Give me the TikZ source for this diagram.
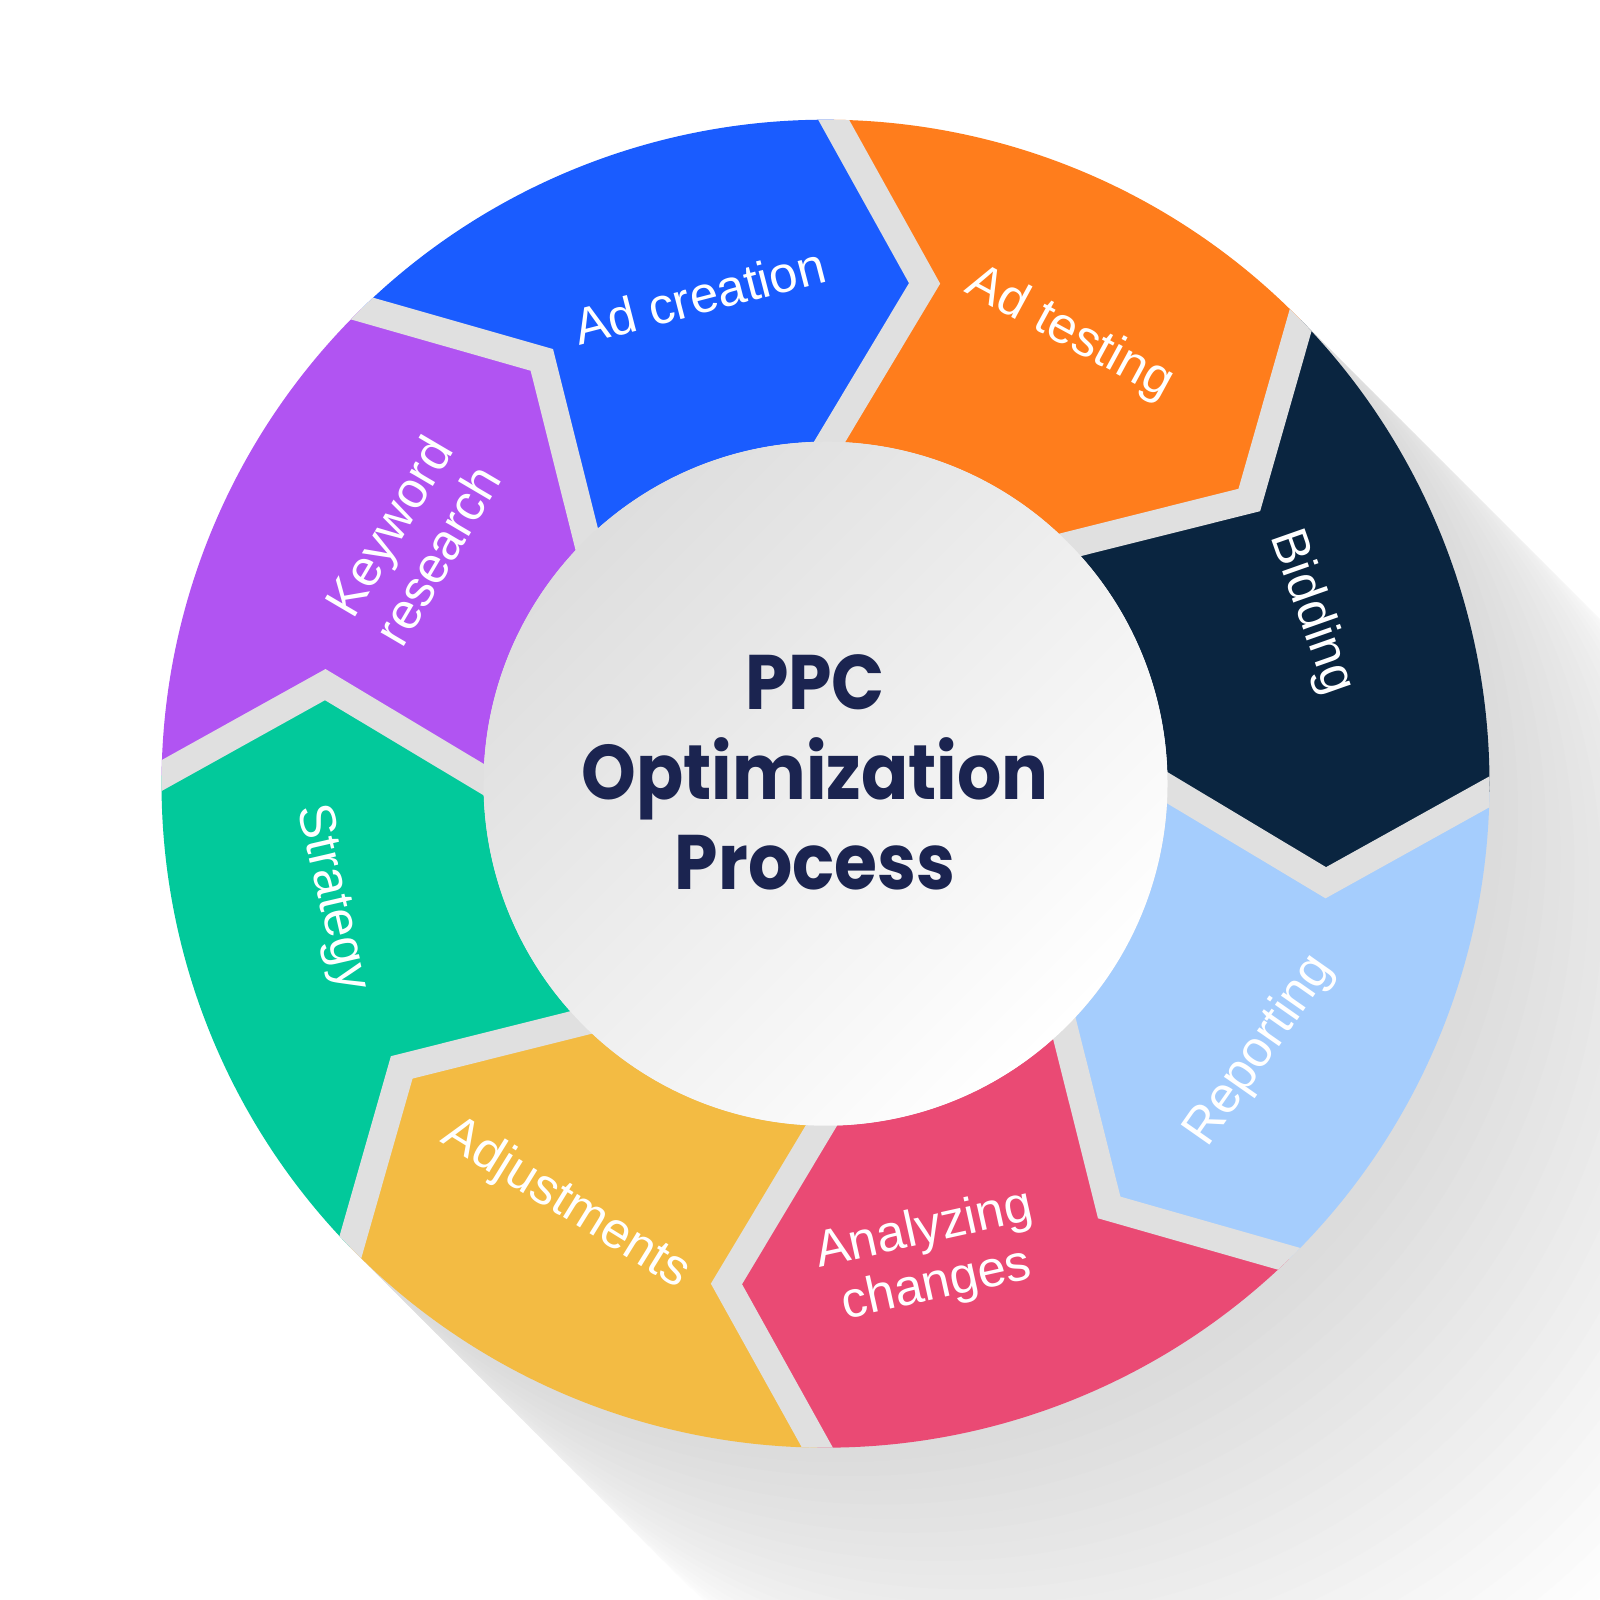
\documentclass[tikz,border=0pt]{standalone}
\usepackage{fontspec}
\setmainfont{Liberation Sans}
\newfontfamily\titlefont[FakeStretch=0.9]{Poppins}

\definecolor{segblue}{HTML}{1A5CFF}
\definecolor{segorange}{HTML}{FF7D1C}
\definecolor{segnavy}{HTML}{0A2540}
\definecolor{seglight}{HTML}{A5CDFD}
\definecolor{segpink}{HTML}{EA4A74}
\definecolor{segyellow}{HTML}{F3BB43}
\definecolor{seggreen}{HTML}{02C99B}
\definecolor{segpurple}{HTML}{B154F2}
\definecolor{titlenavy}{HTML}{1B2450}
\definecolor{gapgray}{HTML}{E0E0E0}

\tikzset{
  seglabel/.style={text=white, font=\fontsize{14.5}{16}\selectfont, align=center, inner sep=0pt},
  gapline/.style={draw=gapgray, line width=0.27cm, line join=miter, line cap=rect},
}

\begin{document}
\begin{tikzpicture}
    % Variables for the ring size
    \def\Rout{6.64}
    \def\Rin{3.42}
    \def\Rtip{5.10}

    \useasboundingbox (0,0) rectangle (16,16);
    \clip (0,0) rectangle (16,16);
    \fill[white] (0,0) rectangle (16,16);

    \begin{scope}[shift={(8.255,8.163)}]
    \coordinate (c) at (0,0);

    % Long shadow towards the lower right, fading out
    \foreach \i [evaluate=\i as \g using 14.5-0.6*\i] in {24,...,1}
        \fill[black!\g, shift={(-45:0.2*\i)}] (0,0) circle (\Rout);

    % Ring segments, clockwise from the top
    % Ad creation
    \fill[segblue] (134.3:\Rout) arc[start angle=134.3, end angle=89.3, radius=\Rout] -- (78.8:\Rtip) -- (89.3:\Rin) arc[start angle=89.3, end angle=134.3, radius=\Rin] -- (123.8:\Rtip) -- cycle;
    % Ad testing
    \fill[segorange] (89.3:\Rout) arc[start angle=89.3, end angle=44.3, radius=\Rout] -- (33.8:\Rtip) -- (44.3:\Rin) arc[start angle=44.3, end angle=89.3, radius=\Rin] -- (78.8:\Rtip) -- cycle;
    % Bidding
    \fill[segnavy] (44.3:\Rout) arc[start angle=44.3, end angle=-0.7, radius=\Rout] -- (-11.2:\Rtip) -- (-0.7:\Rin) arc[start angle=-0.7, end angle=44.3, radius=\Rin] -- (33.8:\Rtip) -- cycle;
    % Reporting
    \fill[seglight] (-0.7:\Rout) arc[start angle=-0.7, end angle=-45.7, radius=\Rout] -- (-56.2:\Rtip) -- (-45.7:\Rin) arc[start angle=-45.7, end angle=-0.7, radius=\Rin] -- (-11.2:\Rtip) -- cycle;
    % Analyzing changes
    \fill[segpink] (-45.7:\Rout) arc[start angle=-45.7, end angle=-90.7, radius=\Rout] -- (-101.2:\Rtip) -- (-90.7:\Rin) arc[start angle=-90.7, end angle=-45.7, radius=\Rin] -- (-56.2:\Rtip) -- cycle;
    % Adjustments
    \fill[segyellow] (-90.7:\Rout) arc[start angle=-90.7, end angle=-135.7, radius=\Rout] -- (-146.2:\Rtip) -- (-135.7:\Rin) arc[start angle=-135.7, end angle=-90.7, radius=\Rin] -- (-101.2:\Rtip) -- cycle;
    % Strategy
    \fill[seggreen] (-135.7:\Rout) arc[start angle=-135.7, end angle=-180.7, radius=\Rout] -- (-191.2:\Rtip) -- (-180.7:\Rin) arc[start angle=-180.7, end angle=-135.7, radius=\Rin] -- (-146.2:\Rtip) -- cycle;
    % Keyword research
    \fill[segpurple] (179.3:\Rout) arc[start angle=179.3, end angle=134.3, radius=\Rout] -- (123.8:\Rtip) -- (134.3:\Rin) arc[start angle=134.3, end angle=179.3, radius=\Rin] -- (168.8:\Rtip) -- cycle;

    % Gaps between the segments
    \begin{scope}
        \clip (0,0) circle (\Rout);
        \draw[gapline] (134.3:\Rout) -- (123.8:\Rtip) -- (134.3:\Rin);
        \draw[gapline] (89.3:\Rout) -- (78.8:\Rtip) -- (89.3:\Rin);
        \draw[gapline] (44.3:\Rout) -- (33.8:\Rtip) -- (44.3:\Rin);
        \draw[gapline] (-0.7:\Rout) -- (-11.2:\Rtip) -- (-0.7:\Rin);
        \draw[gapline] (-45.7:\Rout) -- (-56.2:\Rtip) -- (-45.7:\Rin);
        \draw[gapline] (-90.7:\Rout) -- (-101.2:\Rtip) -- (-90.7:\Rin);
        \draw[gapline] (-135.7:\Rout) -- (-146.2:\Rtip) -- (-135.7:\Rin);
        \draw[gapline] (179.3:\Rout) -- (168.8:\Rtip) -- (179.3:\Rin);
    \end{scope}

    % Hole in the middle, with the ring's shadow
    \shade[top color=black!13, middle color=white, bottom color=white, shading angle=45] (c) circle (\Rin);

    % Labels of the steps
    \node[seglabel, rotate=14.5] (adcreation) at (104.5:5.04) {Ad creation};
    \node[seglabel, rotate=-28.5] (adtesting) at (61.5:5.12) {Ad testing};
    \node[seglabel, rotate=-70.6] (bidding) at (19.4:5.15) {Bidding};
    \node[seglabel, rotate=55] (reporting) at (-31.6:5.10) {Reporting};
    \node[seglabel, rotate=12.5] (analyzing) at (-77.5:4.86) {Analyzing\\changes};
    \node[seglabel, rotate=-31.7] (adjustments) at (-121.7:4.94) {Adjustments};
    \node[seglabel, rotate=-77] (strategy) at (-167:5.07) {Strategy};
    \node[seglabel, rotate=59.5] (keyword) at (149.5:4.79) {Keyword\\research};

    % Title in the middle
    \node[text=titlenavy, align=center, font=\titlefont\bfseries\fontsize{22}{25.6}\selectfont] (title) at (-0.105,0.117) {PPC\\Optimization\\Process};
    \end{scope}
\end{tikzpicture}
\end{document}
